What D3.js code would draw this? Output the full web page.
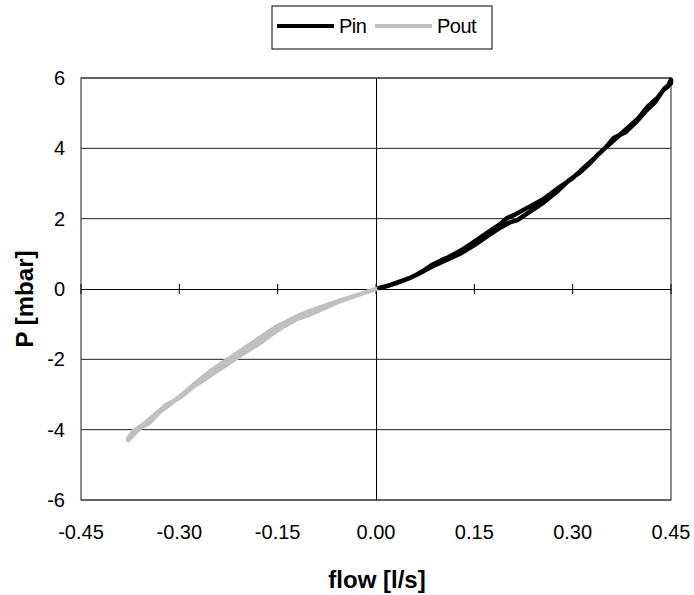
<!DOCTYPE html>
<html>
<head>
<meta charset="utf-8">
<script src="https://cdn.jsdelivr.net/npm/d3@7"></script>
<style>
  html, body { margin: 0; padding: 0; background: #fff; }
  svg { display: block; font-family: Arial, "Liberation Sans", sans-serif; }
</style>
</head>
<body>
<svg id="chart" width="694" height="595"></svg>
<script>
// ---- data ----
const seriesNames = ["Pin", "Pout"];
const xTicks = [-0.45, -0.30, -0.15, 0.00, 0.15, 0.30, 0.45];
const xTickLabels = ["-0.45", "-0.30", "-0.15", "0.00", "0.15", "0.30", "0.45"];
const yTicks = [-6, -4, -2, 0, 2, 4, 6];
const yTickLabels = ["-6", "-4", "-2", "0", "2", "4", "6"];

// Pin: flow up then back down (hysteresis loop)
const pinFlow = [0.005, 0.02, 0.035, 0.05, 0.061, 0.075, 0.085, 0.10, 0.111, 0.13, 0.15, 0.17, 0.19, 0.20, 0.21, 0.23, 0.255, 0.28, 0.30, 0.32, 0.335, 0.35, 0.363, 0.38, 0.397, 0.411, 0.425, 0.438, 0.445, 0.45,
                 0.45, 0.44, 0.43, 0.415, 0.40, 0.385, 0.37, 0.355, 0.34, 0.325, 0.31, 0.295, 0.275, 0.255, 0.235, 0.215, 0.205, 0.19, 0.17, 0.15, 0.13, 0.11, 0.09, 0.07, 0.05, 0.03, 0.01];
const pinP    = [0.03, 0.10, 0.20, 0.30, 0.40, 0.55, 0.68, 0.82, 0.91, 1.10, 1.35, 1.60, 1.85, 2.02, 2.10, 2.30, 2.55, 2.90, 3.15, 3.50, 3.75, 4.02, 4.30, 4.45, 4.75, 5.05, 5.30, 5.65, 5.75, 5.95,
                 5.85, 5.70, 5.45, 5.20, 4.85, 4.60, 4.35, 4.10, 3.85, 3.55, 3.30, 3.10, 2.75, 2.45, 2.20, 1.95, 1.90, 1.75, 1.50, 1.25, 1.02, 0.85, 0.68, 0.48, 0.30, 0.16, 0.05];

// Pout: flow out then back
const poutFlow = [0, -0.015, -0.03, -0.05, -0.067, -0.085, -0.10, -0.117, -0.135, -0.15, -0.17, -0.19, -0.21, -0.23, -0.25, -0.275, -0.296, -0.316, -0.33, -0.346, -0.36, -0.373, -0.378,
                  -0.378, -0.37, -0.355, -0.34, -0.32, -0.30, -0.28, -0.26, -0.24, -0.22, -0.20, -0.18, -0.16, -0.14, -0.12, -0.10, -0.08, -0.06, -0.04, -0.02, 0];
const poutP    = [0, -0.09, -0.18, -0.30, -0.40, -0.52, -0.62, -0.75, -0.92, -1.05, -1.30, -1.55, -1.80, -2.05, -2.30, -2.67, -3.01, -3.30, -3.50, -3.81, -3.95, -4.20, -4.30,
                  -4.25, -4.05, -3.85, -3.62, -3.30, -3.10, -2.80, -2.55, -2.30, -2.05, -1.80, -1.58, -1.30, -1.05, -0.85, -0.72, -0.55, -0.38, -0.25, -0.12, 0];

const colors = ["#000000", "#c0c0c0"];

// ---- layout ----
const svg = d3.select("#chart");
const L = 81, R = 671, T = 78, B = 500;

const x = d3.scaleLinear().domain([-0.45, 0.45]).range([L, R]);
const y = d3.scaleLinear().domain([-6, 6]).range([B, T]);

const g = svg.append("g");

// horizontal gridlines
g.append("g").selectAll("line").data(yTicks.filter(v => v !== 0)).join("line")
  .attr("x1", L).attr("x2", R)
  .attr("y1", d => y(d)).attr("y2", d => y(d))
  .attr("stroke", "#222").attr("stroke-width", 1);

// plot border
g.append("rect").attr("x", L).attr("y", T).attr("width", R - L).attr("height", B - T)
  .attr("fill", "none").attr("stroke", "#444").attr("stroke-width", 1.2);

// x axis at y = 0 with crossing ticks
const xAxis = d3.axisBottom(x).tickValues(xTicks).tickSize(0).tickFormat("");
const xa = g.append("g").attr("transform", `translate(0,${y(0)})`).call(xAxis);
xa.select(".domain").attr("stroke", "#000").attr("stroke-width", 1);
g.append("g").selectAll("line").data(xTicks).join("line")
  .attr("x1", d => x(d)).attr("x2", d => x(d))
  .attr("y1", y(0) - 5).attr("y2", y(0) + 5)
  .attr("stroke", "#000").attr("stroke-width", 1);

// y axis at x = 0
const yAxis = d3.axisLeft(y).tickValues(yTicks).tickSize(0).tickFormat("");
const ya = g.append("g").attr("transform", `translate(${x(0)},0)`).call(yAxis);
ya.select(".domain").attr("stroke", "#000").attr("stroke-width", 1);

// tick labels
g.append("g").selectAll("text").data(xTicks).join("text")
  .attr("x", d => x(d)).attr("y", 539)
  .attr("text-anchor", "middle").attr("font-size", 20).attr("fill", "#000")
  .text((d, i) => xTickLabels[i]);

g.append("g").selectAll("text").data(yTicks).join("text")
  .attr("x", 65).attr("y", d => y(d) + 7)
  .attr("text-anchor", "end").attr("font-size", 20).attr("fill", "#000")
  .text((d, i) => yTickLabels[i]);

// axis titles
svg.append("text").attr("x", 377).attr("y", 588)
  .attr("text-anchor", "middle").attr("font-size", 24).attr("font-weight", "bold")
  .text("flow [l/s]");
svg.append("text").attr("transform", "translate(33,299) rotate(-90)")
  .attr("text-anchor", "middle").attr("font-size", 24).attr("font-weight", "bold")
  .text("P [mbar]");

// lines
const line = d3.line().x(d => x(d[0])).y(d => y(d[1])).curve(d3.curveLinear);
const pinData = pinFlow.map((v, i) => [v, pinP[i]]);
const poutData = poutFlow.map((v, i) => [v, poutP[i]]);

g.append("path").datum(poutData).attr("d", line)
  .attr("fill", "none").attr("stroke", colors[1]).attr("stroke-width", 4.5)
  .attr("stroke-linejoin", "round").attr("stroke-linecap", "round");
g.append("path").datum(pinData).attr("d", line)
  .attr("fill", "none").attr("stroke", colors[0]).attr("stroke-width", 4.5)
  .attr("stroke-linejoin", "round").attr("stroke-linecap", "round");

// legend
const lg = svg.append("g");
lg.append("rect").attr("x", 272).attr("y", 6).attr("width", 220).attr("height", 43)
  .attr("fill", "#fff").attr("stroke", "#000").attr("stroke-width", 1);
const legendItems = [
  { name: seriesNames[0], color: colors[0], x1: 277, x2: 334, tx: 339 },
  { name: seriesNames[1], color: colors[1], x1: 375, x2: 432, tx: 437 }
];
legendItems.forEach(it => {
  lg.append("line").attr("x1", it.x1).attr("x2", it.x2).attr("y1", 26).attr("y2", 26)
    .attr("stroke", it.color).attr("stroke-width", 4);
  lg.append("text").attr("x", it.tx).attr("y", 33).attr("font-size", 20)
    .attr("letter-spacing", -0.5).text(it.name);
});
</script>
</body>
</html>
